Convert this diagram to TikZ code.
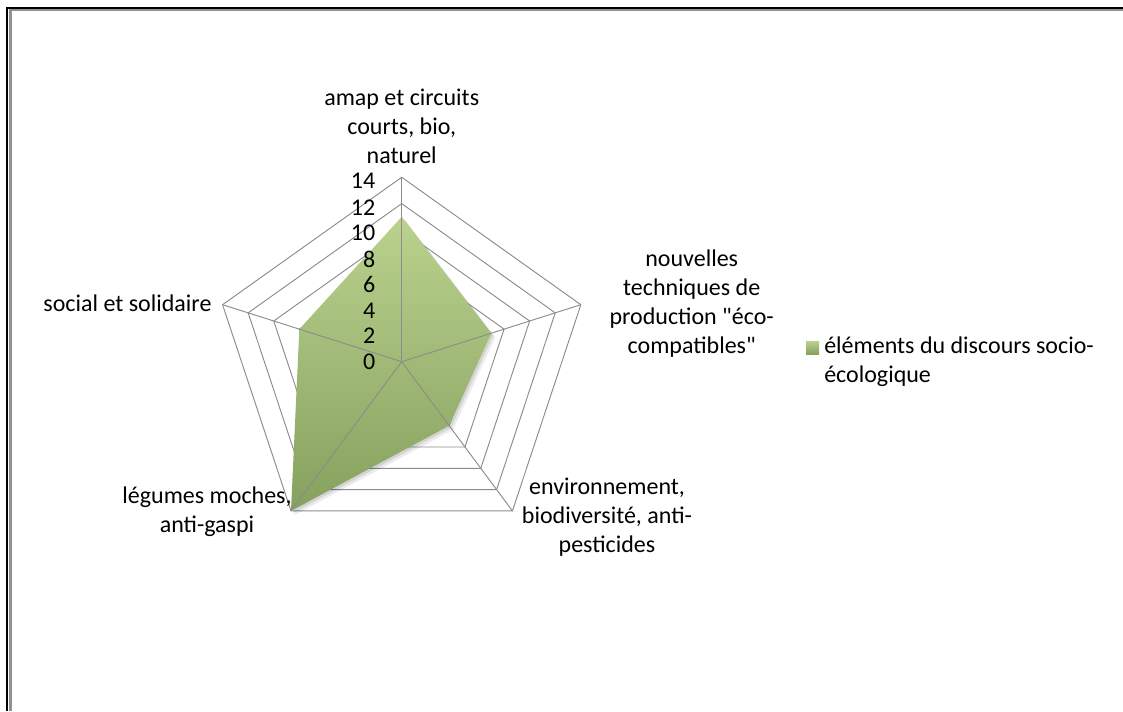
\documentclass[tikz,border=0pt]{standalone}
\usepackage{fontspec}
\setmainfont{Carlito}
\definecolor{radartop}{RGB}{186,210,142}
\definecolor{radarbot}{RGB}{134,160,94}
\definecolor{gridgray}{RGB}{140,140,140}
\definecolor{framegray}{RGB}{145,145,145}
\begin{document}
\begin{tikzpicture}[x=0.75pt,y=-0.75pt,
    gridline/.style={draw=gridgray,line width=0.7pt},
    axislabel/.style={align=center,inner sep=0pt,font=\fontsize{18}{21.75}\selectfont},
    ticklabel/.style={anchor=east,inner sep=0pt,font=\fontsize{18}{21.75}\selectfont}]
        \useasboundingbox (0,0) rectangle (1123,711);
        \fill[white] (0,0) rectangle (1123,711);

        \draw[line width=1.5pt](7,711) to (7,7.5) to (1123,7.5);
        \draw[framegray,line width=1.8pt](10.5,711) to (10.5,10.2) to (1123,10.2);

        \coordinate (O) at (401.7,361.7);
        \begin{scope}[shift={(O)},x={(10.09pt,0pt)},y={(0pt,9.88pt)}]
        \draw[gridline](90:2) -- (18:2) -- (-54:2) -- (-126:2) -- (162:2) -- cycle;
        \draw[gridline](90:4) -- (18:4) -- (-54:4) -- (-126:4) -- (162:4) -- cycle;
        \draw[gridline](90:6) -- (18:6) -- (-54:6) -- (-126:6) -- (162:6) -- cycle;
        \draw[gridline](90:8) -- (18:8) -- (-54:8) -- (-126:8) -- (162:8) -- cycle;
        \draw[gridline](90:10) -- (18:10) -- (-54:10) -- (-126:10) -- (162:10) -- cycle;
        \draw[gridline](90:12) -- (18:12) -- (-54:12) -- (-126:12) -- (162:12) -- cycle;
        \draw[gridline](90:14) -- (18:14) -- (-54:14) -- (-126:14) -- (162:14) -- cycle;

        \fill[black,opacity=0.08,xshift=3pt,yshift=-3pt](90:11) -- (18:7) -- (-54:6) -- (-126:14) -- (162:8) -- cycle;
        \fill[black,opacity=0.1,xshift=1.5pt,yshift=-1.5pt](90:11) -- (18:7) -- (-54:6) -- (-126:14) -- (162:8) -- cycle;
        \shade[top color=radartop,bottom color=radarbot](90:11) -- (18:7) -- (-54:6) -- (-126:14) -- (162:8) -- cycle;

        \draw[gridline](0,0) to (90:14);
        \draw[gridline](0,0) to (18:14);
        \draw[gridline](0,0) to (-54:14);
        \draw[gridline](0,0) to (-126:14);
        \draw[gridline](0,0) to (162:14);

        \node[ticklabel] (t0) at(-1.95,0){0};
        \node[ticklabel] (t2) at(-1.95,1.95){2};
        \node[ticklabel] (t4) at(-1.95,3.9){4};
        \node[ticklabel] (t6) at(-1.95,5.85){6};
        \node[ticklabel] (t8) at(-1.95,7.8){8};
        \node[ticklabel] (t10) at(-1.95,9.75){10};
        \node[ticklabel] (t12) at(-1.95,11.7){12};
        \node[ticklabel] (t14) at(-1.95,13.75){14};
        \end{scope}

        \node[axislabel] (amap) at(401.7,126){amap et circuits\\courts, bio,\\naturel};
        \node[axislabel] (techniques) at(691.7,303.5){nouvelles\\techniques de\\production \textquotedbl éco-\\compatibles\textquotedbl};
        \node[axislabel] (environnement) at(607,517){environnement,\\biodiversité, anti-\\pesticides};
        \node[axislabel] (legumes) at(207,512){légumes moches,\\anti-gaspi};
        \node[axislabel] (social) at(127.5,303){social et solidaire};

        \node[inner sep=0pt,minimum size=9.75pt,top color=radartop,bottom color=radarbot] (key) at(812.5,347.5){};
        \node[axislabel,align=left,anchor=west] (legend) at(824,362){éléments du discours socio-\\écologique};
    \end{tikzpicture}
\end{document}
